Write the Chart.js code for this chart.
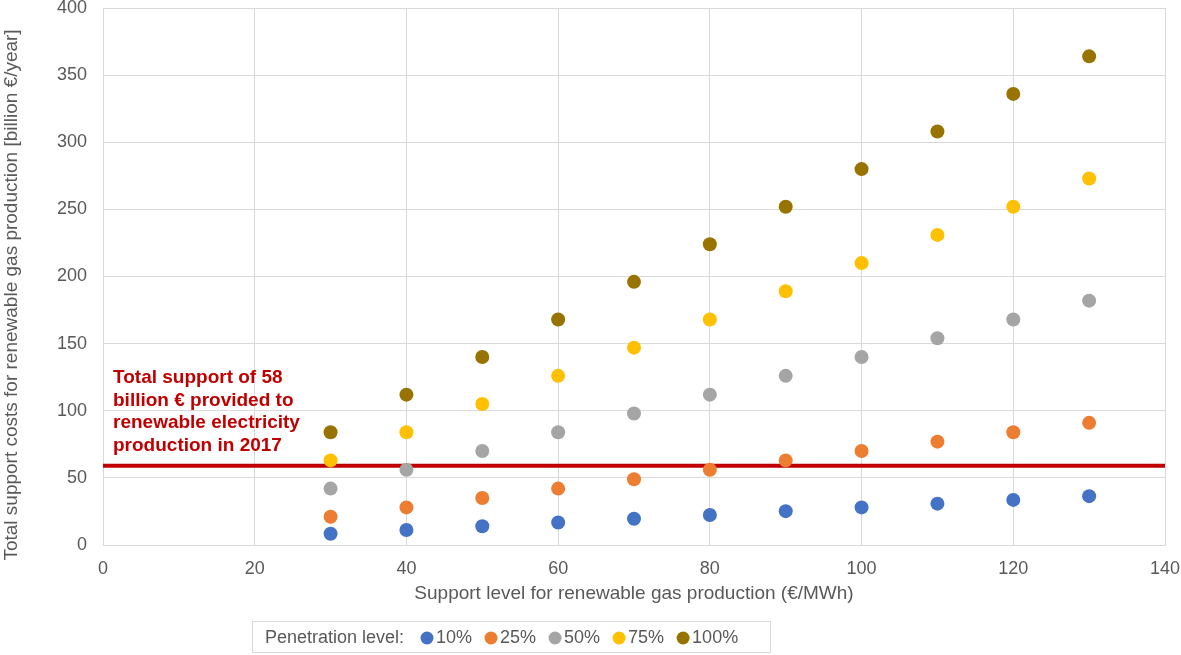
<!DOCTYPE html>
<html>
<head>
<meta charset="utf-8">
<style>
  html, body { margin: 0; padding: 0; background: #fff; }
  #chart { display: block; }
</style>
</head>
<body>
<canvas id="chart" width="1181" height="655"></canvas>
<script src="https://cdn.jsdelivr.net/npm/chart.js/dist/chart.umd.min.js"></script>
<script>
// support level (€/MWh)
const supportLevels = [30, 40, 50, 60, 70, 80, 90, 100, 110, 120, 130];
// total support costs (billion €/year) per penetration level
const pen10 = [8.4, 11.2, 14, 16.8, 19.6, 22.4, 25.2, 28, 30.8, 33.6, 36.4];
const pen25 = [21, 28, 35, 42, 49, 56, 63, 70, 77, 84, 91];
const pen50 = [42, 56, 70, 84, 98, 112, 126, 140, 154, 168, 182];
const pen75 = [63, 84, 105, 126, 147, 168, 189, 210, 231, 252, 273];
const pen100 = [84, 112, 140, 168, 196, 224, 252, 280, 308, 336, 364];
const seriesNames = ['10%', '25%', '50%', '75%', '100%'];
const seriesColors = ['#4472C4', '#ED7D31', '#A5A5A5', '#FFC000', '#997300'];
const electricitySupport = 59;
const noteLines = ['Total support of 58', 'billion € provided to', 'renewable electricity', 'production in 2017'];

const textGrey = '#595959';
const fontFamily = 'Arial, "Liberation Sans", sans-serif';

function toPoints(values) {
  return supportLevels.map((x, i) => ({ x: x, y: values[i] }));
}

const allSeries = [pen10, pen25, pen50, pen75, pen100];
const datasets = allSeries.map((vals, i) => ({
  label: seriesNames[i],
  data: toPoints(vals),
  backgroundColor: seriesColors[i],
  borderColor: seriesColors[i],
  borderWidth: 0,
  pointRadius: 7,
  pointHoverRadius: 7,
  showLine: false
}));

// red reference line
datasets.unshift({
  label: 'support',
  data: [{ x: 0, y: electricitySupport }, { x: 140, y: electricitySupport }],
  borderColor: '#C00000',
  borderWidth: 4,
  pointRadius: 0,
  showLine: true,
  order: 10
});

// note text + custom legend
const extras = {
  id: 'extras',
  afterDraw(chart) {
    const ctx = chart.ctx;
    ctx.save();
    ctx.font = 'bold 19px ' + fontFamily;
    ctx.fillStyle = '#C00000';
    ctx.textAlign = 'left';
    ctx.textBaseline = 'middle';
    noteLines.forEach((line, i) => {
      ctx.fillText(line, 113, 378 + i * 22.6);
    });

    // legend box
    ctx.strokeStyle = '#D9D9D9';
    ctx.lineWidth = 1;
    ctx.strokeRect(252.5, 621.5, 518, 31);
    ctx.font = '18px ' + fontFamily;
    ctx.fillStyle = textGrey;
    const y = 638;
    ctx.fillText('Penetration level:', 265, y);
    let cx = 427;
    seriesNames.forEach((name, i) => {
      ctx.beginPath();
      ctx.fillStyle = seriesColors[i];
      ctx.arc(cx, y, 6.5, 0, Math.PI * 2);
      ctx.fill();
      ctx.fillStyle = textGrey;
      ctx.fillText(name, cx + 9, y);
      cx += 9 + ctx.measureText(name).width + 19;
    });
    ctx.restore();
  }
};

new Chart(document.getElementById('chart'), {
  type: 'scatter',
  data: { datasets: datasets },
  options: {
    responsive: false,
    animation: false,
    layout: { padding: { top: 8, right: 16, bottom: 50, left: 0 } },
    plugins: {
      legend: { display: false },
      tooltip: { enabled: false }
    },
    scales: {
      x: {
        type: 'linear',
        min: 0,
        max: 140,
        ticks: { stepSize: 20, color: textGrey, font: { size: 18, family: fontFamily, lineHeight: 1.2 }, padding: 0 },
        grid: { color: '#D9D9D9', drawTicks: true, tickLength: 13, tickColor: 'rgba(0,0,0,0)' },
        border: { color: '#D9D9D9' },
        title: {
          display: true,
          text: 'Support level for renewable gas production (€/MWh)',
          color: textGrey,
          font: { size: 19, family: fontFamily },
          padding: { top: 4, bottom: 0 }
        },
        afterFit(scale) { scale.height = 60; }
      },
      y: {
        min: 0,
        max: 400,
        ticks: { stepSize: 50, color: textGrey, font: { size: 18, family: fontFamily, lineHeight: 0.85 }, padding: 0 },
        grid: { color: '#D9D9D9', drawTicks: true, tickLength: 16, tickColor: 'rgba(0,0,0,0)' },
        border: { color: '#D9D9D9' },
        title: {
          display: true,
          text: 'Total support costs for renewable gas production [billion €/year]       ',
          color: textGrey,
          font: { size: 19, family: fontFamily },
          padding: { top: 0, bottom: 0 }
        },
        afterFit(scale) { scale.width = 103; }
      }
    }
  },
  plugins: [extras]
});
</script>
</body>
</html>
